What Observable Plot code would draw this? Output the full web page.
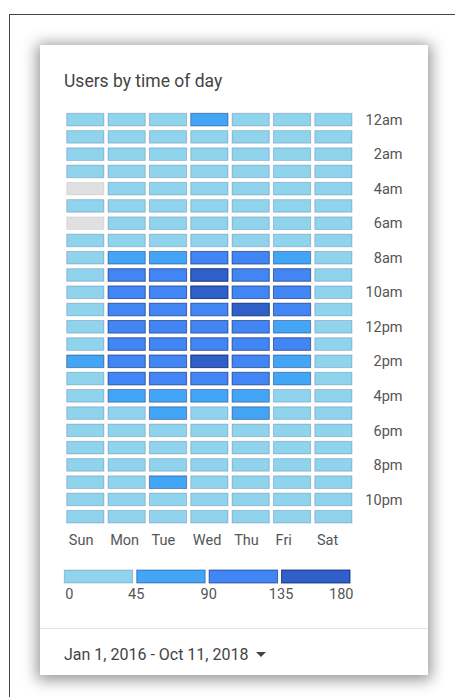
<!DOCTYPE html>
<html>
<head>
<meta charset="utf-8">
<script src="https://cdn.jsdelivr.net/npm/d3@7"></script>
<script src="https://cdn.jsdelivr.net/npm/@observablehq/plot@0.6"></script>
<style>
  html, body { margin: 0; padding: 0; background: #fff; width: 455px; height: 697px; overflow: hidden; font-family: Roboto, "Noto Sans", sans-serif; }
  #frame { position: absolute; left: 9px; top: 14px; width: 470px; height: 720px; border: 1px solid #444; box-sizing: border-box; }
  #card { position: absolute; left: 40px; top: 45px; width: 388px; height: 630px; background: #fff; box-shadow: 0 2px 14px 3px rgba(0,0,0,0.42); }
  #title { position: absolute; left: 64px; top: 73px; font-size: 17.5px; line-height: 1; color: #444; white-space: nowrap; }
  #chart { position: absolute; left: 40px; top: 100px; }
  #legend { position: absolute; left: 40px; top: 560px; }
  #divider { position: absolute; left: 40px; top: 628px; width: 388px; height: 1px; background: #e0e0e0; }
  #footer { position: absolute; left: 64px; top: 647px; font-size: 16px; line-height: 1; color: #444; white-space: nowrap; }
  #caret { display: inline-block; width: 0; height: 0; border-left: 5px solid transparent; border-right: 5px solid transparent; border-top: 5px solid #444; margin-left: 8px; vertical-align: 3px; }
</style>
</head>
<body>
<div id="frame"></div>
<div id="card"></div>
<div id="title">Users by time of day</div>
<div id="chart"></div>
<div id="legend"></div>
<div id="divider"></div>
<div id="footer">Jan 1, 2016 - Oct 11, 2018<span id="caret"></span></div>
<script>
const days = ["Sun", "Mon", "Tue", "Wed", "Thu", "Fri", "Sat"];
const hours = ["12am","1am","2am","3am","4am","5am","6am","7am","8am","9am","10am","11am",
               "12pm","1pm","2pm","3pm","4pm","5pm","6pm","7pm","8pm","9pm","10pm","11pm"];
const hourTicks = ["12am","2am","4am","6am","8am","10am","12pm","2pm","4pm","6pm","8pm","10pm"];

// users per hour (null = no data)
const sun = [24, 19, 14, 10, null, 6, null, 12, 21, 30, 36, 39, 40, 42, 58, 41, 38, 34, 31, 29, 30, 33, 31, 27];
const mon = [20, 13, 9, 7, 5, 8, 15, 34, 72, 112, 124, 121, 108, 118, 125, 113, 84, 44, 33, 30, 32, 37, 34, 26];
const tue = [22, 14, 10, 7, 6, 9, 16, 36, 76, 116, 127, 122, 112, 120, 126, 115, 82, 62, 38, 33, 36, 55, 35, 27];
const wed = [58, 15, 11, 8, 6, 10, 17, 38, 94, 148, 152, 131, 118, 126, 141, 117, 79, 43, 35, 31, 34, 38, 33, 25];
const thu = [23, 15, 10, 8, 6, 9, 16, 37, 96, 128, 131, 139, 116, 123, 129, 114, 81, 59, 36, 32, 33, 37, 32, 24];
const fri = [21, 13, 9, 7, 6, 8, 14, 33, 71, 106, 111, 104, 86, 98, 84, 79, 43, 36, 30, 27, 26, 28, 27, 24];
const sat = [22, 17, 12, 9, 7, 8, 11, 17, 24, 30, 35, 38, 39, 40, 39, 37, 35, 33, 30, 28, 27, 28, 27, 25];

const legendBreaks = [0, 45, 90, 135, 180];
const palette = ["#8fd3ec", "#42a5f5", "#4285f4", "#2f5fc9"];
const borderOpacity = [0.22, 0.45, 0.6, 0.78];

const byDay = [sun, mon, tue, wed, thu, fri, sat];
const cells = days.flatMap((d, i) => hours.map((h, j) => ({day: d, hour: h, value: byDay[i][j]})));
const thresholds = legendBreaks.slice(1, -1);
const level = v => d3.bisectRight(thresholds, v);

const colorScale = {type: "threshold", domain: thresholds, range: palette};
const font = {fontFamily: "Roboto, 'Noto Sans', sans-serif", fontSize: "14.5px", color: "#555", background: "transparent", overflow: "visible"};

const chart = Plot.plot({
  width: 388, height: 460,
  marginTop: 13.3, marginBottom: 37, marginLeft: 26.7, marginRight: 76,
  x: {domain: days, paddingInner: 0.1, paddingOuter: 0, round: false},
  y: {domain: hours, paddingInner: 0.27, paddingOuter: 0, round: false},
  color: colorScale,
  opacity: {type: "identity"},
  style: font,
  marks: [
    Plot.cell(cells.filter(d => d.value == null), {x: "day", y: "hour", fill: "#e0e0e0", stroke: "#000", strokeOpacity: 0.08}),
    Plot.cell(cells.filter(d => d.value != null), {x: "day", y: "hour", fill: "value", stroke: "#0a2468", strokeOpacity: d => borderOpacity[level(d.value)]}),
    Plot.axisX({anchor: "bottom", tickSize: 0, tickPadding: 11, textAnchor: "start", dx: -17, fontSize: 14.5, label: null}),
    Plot.axisY({anchor: "right", ticks: hourTicks, tickSize: 0, tickPadding: 50, textAnchor: "end", fontSize: 14.5, label: null})
  ]
});
document.getElementById("chart").append(chart);

const legendBins = legendBreaks.slice(0, -1).map((lo, i) => ({lo, hi: legendBreaks[i + 1]}));
const legend = Plot.plot({
  width: 388, height: 50,
  marginTop: 10, marginBottom: 27, marginLeft: 22.3, marginRight: 76,
  x: {domain: [legendBreaks[0], legendBreaks[legendBreaks.length - 1]], axis: null},
  color: colorScale,
  opacity: {type: "identity"},
  style: font,
  marks: [
    Plot.rect(legendBins, {x1: "lo", x2: "hi", fill: "lo", stroke: "#0a2468", strokeOpacity: d => borderOpacity[level(d.lo)], insetLeft: 2, insetRight: 2}),
    Plot.text(legendBreaks.slice(0, 1), {x: d => d, frameAnchor: "bottom", dy: 15, textAnchor: "start", dx: 2.5, fontSize: 14.5, fill: "#555"}),
    Plot.text(legendBreaks.slice(1, -1), {x: d => d, frameAnchor: "bottom", dy: 15, dx: 1, fontSize: 14.5, fill: "#555"}),
    Plot.text(legendBreaks.slice(-1), {x: d => d, frameAnchor: "bottom", dy: 15, textAnchor: "end", dx: 1, fontSize: 14.5, fill: "#555"})
  ]
});
document.getElementById("legend").append(legend);
</script>
</body>
</html>
